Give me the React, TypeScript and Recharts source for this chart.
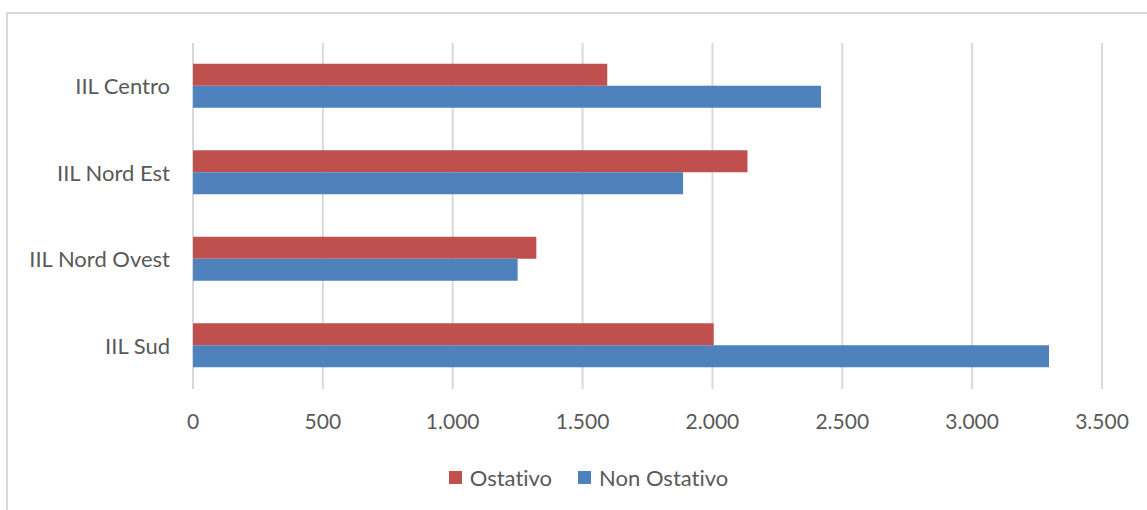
import React from "react"
import { BarChart, Bar, XAxis, YAxis, CartesianGrid, Legend } from "recharts"

const categories = ["IIL Centro", "IIL Nord Est", "IIL Nord Ovest", "IIL Sud"]
const ostativo = [1595, 2135, 1322, 2005]
const nonOstativo = [2418, 1887, 1250, 3296]
const xTicks = [0, 500, 1000, 1500, 2000, 2500, 3000, 3500]

const seriesNames = ["Ostativo", "Non Ostativo"]
const seriesColors = ["#C0504D", "#4F81BD"]

const data = categories.map((c, i) => ({
  name: c,
  ostativo: ostativo[i],
  nonOstativo: nonOstativo[i],
}))

// italian thousands separator: 1.000
const fmtIt = (v: number) => String(v).replace(/\B(?=(\d{3})+(?!\d))/g, ".")

const font = "Lato, 'Open Sans', sans-serif"

function LegendContent() {
  return (
    <div
      style={{
        display: "flex",
        justifyContent: "center",
        alignItems: "center",
        height: 24,
        fontFamily: font,
        fontSize: 22,
        color: "#595959",
        paddingLeft: 62,
        fontVariantLigatures: "none",
      }}
    >
      {seriesNames.map((n, i) => (
        <div key={n} style={{ display: "flex", alignItems: "center", marginRight: i === 0 ? 26 : 0 }}>
          <span style={{ width: 13, height: 13, background: seriesColors[i], marginRight: 8, display: "inline-block" }} />
          <span>{n}</span>
        </div>
      ))}
    </div>
  )
}

export default function App() {
  return (
    <div
      style={{
        position: "absolute",
        left: 0,
        top: 0,
        width: 1147,
        height: 510,
        background: "#fff",
        overflow: "hidden",
      }}
    >
      <div
        style={{
          position: "absolute",
          left: 6,
          top: 12,
          width: 1200,
          height: 560,
          border: "2px solid #d9d9d9",
        }}
      />
      <div style={{ position: "absolute", left: 0, top: 0 }}>
        <BarChart
          width={1147}
          height={510}
          data={data}
          layout="vertical"
          margin={{ top: 43, right: 45, bottom: 21, left: 13 }}
          barCategoryGap="24%"
          barGap={0}
        >
          <CartesianGrid horizontal={false} stroke="#d9d9d9" strokeWidth={2} />
          <XAxis
            type="number"
            domain={[0, 3500]}
            ticks={xTicks}
            tickFormatter={(v: number) => fmtIt(v)}
            axisLine={false}
            tickLine={false}
            tickMargin={19}
            height={76}
            tick={{ fill: "#595959", fontSize: 21, fontFamily: font }}
          />
          <YAxis
            type="category"
            dataKey="name"
            width={180}
            axisLine={false}
            tickLine={false}
            tickMargin={17}
            tick={{ fill: "#595959", fontSize: 22, fontFamily: font }}
          />
          <Legend verticalAlign="bottom" content={() => <LegendContent />} />
          <Bar dataKey="ostativo" name={seriesNames[0]} fill={seriesColors[0]} isAnimationActive={false} />
          <Bar dataKey="nonOstativo" name={seriesNames[1]} fill={seriesColors[1]} isAnimationActive={false} />
        </BarChart>
      </div>
    </div>
  )
}
